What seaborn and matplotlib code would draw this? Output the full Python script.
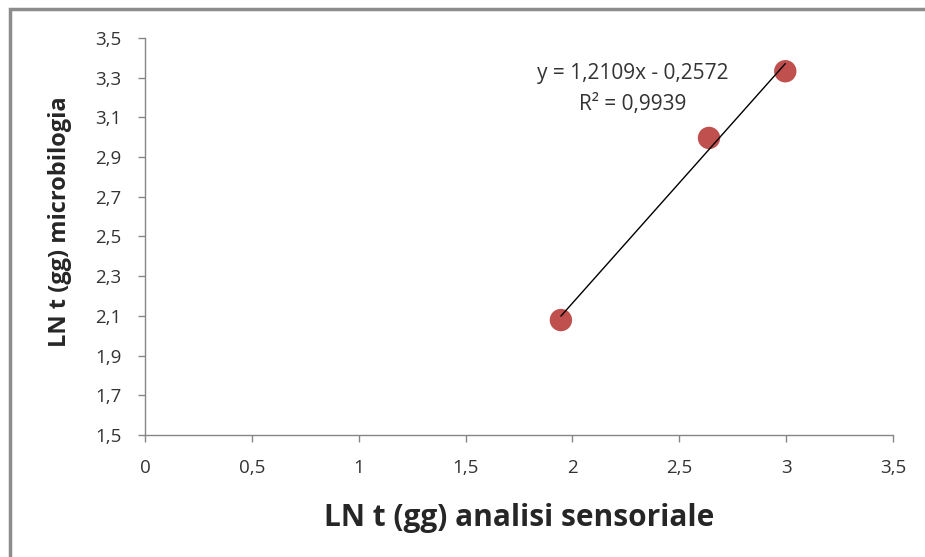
import matplotlib
matplotlib.use("Agg")
import matplotlib.pyplot as plt
import seaborn as sns
import pandas as pd
from matplotlib.patches import Rectangle

# LN of days: sensory analysis vs microbiology
ln_sensoriale = [1.946, 2.639, 2.996]
ln_microbiologia = [2.079, 2.996, 3.332]

x_ticks = [0, 0.5, 1, 1.5, 2, 2.5, 3, 3.5]
x_tick_labels = ["0", "0,5", "1", "1,5", "2", "2,5", "3", "3,5"]
y_ticks = [1.5, 1.7, 1.9, 2.1, 2.3, 2.5, 2.7, 2.9, 3.1, 3.3, 3.5]
y_tick_labels = ["1,5", "1,7", "1,9", "2,1", "2,3", "2,5", "2,7", "2,9", "3,1", "3,3", "3,5"]

equation = "y = 1,2109x - 0,2572"
r_squared = "R² = 0,9939"

df = pd.DataFrame({"x": ln_sensoriale, "y": ln_microbiologia})

sns.set_style("white")
plt.rcParams["font.family"] = ["Open Sans", "DejaVu Sans"]

fig = plt.figure(figsize=(9.25, 5.57), dpi=100)
ax = fig.add_axes([0.1568, 0.219, 0.8086, 0.713])

sns.scatterplot(data=df, x="x", y="y", ax=ax, s=260, color="#C0504D",
                edgecolor="none", zorder=2)
sns.regplot(data=df, x="x", y="y", ax=ax, ci=None, scatter=False,
            line_kws={"color": "black", "lw": 1}, truncate=True)

ax.set_xlim(0, 3.5)
ax.set_ylim(1.5, 3.5)
ax.set_xticks(x_ticks)
ax.set_xticklabels(x_tick_labels)
ax.set_yticks(y_ticks)
ax.set_yticklabels(y_tick_labels)
ax.tick_params(axis="both", labelsize=13.5, length=5, width=1, color="#868686",
               labelcolor="#333333", direction="out", bottom=True, left=True, pad=12)

for side in ["top", "right"]:
    ax.spines[side].set_visible(False)
for side in ["left", "bottom"]:
    ax.spines[side].set_color("#868686")
    ax.spines[side].set_linewidth(1)

ax.set_xlabel("LN t (gg) analisi sensoriale", fontsize=21.5, fontweight="bold", labelpad=19)
ax.set_ylabel("LN t (gg) microbilogia", fontsize=17, fontweight="bold")
ax.yaxis.set_label_coords(-0.098, 0.537)

ax.text(2.284, 3.322, equation, ha="center", va="center", fontsize=15, color="#333333")
ax.text(2.284, 3.166, r_squared, ha="center", va="center", fontsize=15, color="#333333")

# outer chart border (only top and left visible in the crop)
fig.patches.append(Rectangle((0.0108, -0.1), 1.2, 1.083, transform=fig.transFigure,
                             fill=False, edgecolor="#8c8c8c", lw=2.5))

fig.savefig("out.png", dpi=100)
